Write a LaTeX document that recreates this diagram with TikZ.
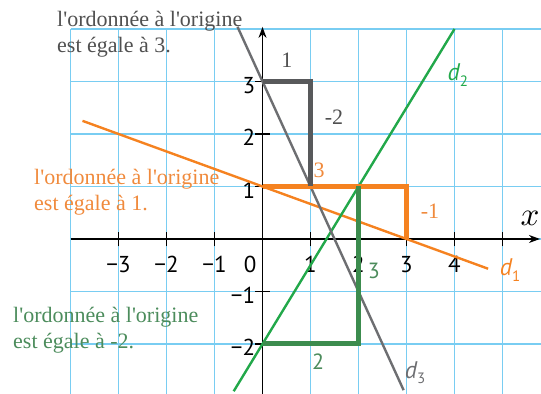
\documentclass[tikz,border=0pt]{standalone}
\usepackage{graphicx}
\usepackage{fontspec}
\setmainfont{Liberation Serif}[Ligatures=TeXOff]
\newfontfamily\axfont{PT Sans}
\usetikzlibrary{arrows.meta}
\definecolor{gridc}{HTML}{79CDF2}
\definecolor{orgc}{HTML}{F58220}
\definecolor{orgtxt}{HTML}{F08A3C}
\definecolor{grnc}{HTML}{22A84A}
\definecolor{grnslope}{HTML}{3C8C4E}
\definecolor{grntxt}{HTML}{4C8C5C}
\definecolor{grayslope}{HTML}{58595B}
\definecolor{grayline}{HTML}{6D6E71}
\definecolor{graytxt}{HTML}{505050}
\tikzset{
  gridline/.style={gridc, line width=1.8pt},
  axisline/.style={black, line width=1.4pt},
  tickline/.style={black, line width=1.3pt},
  dline/.style={line width=2.4pt},
  slope/.style={line width=5pt, line cap=butt, line join=miter},
  ticklab/.style={font=\axfont\fontsize{23}{23}\selectfont, inner sep=0pt},
  note/.style={font=\fontsize{22}{26}\selectfont, align=left, inner sep=0pt, anchor=north west},
  steplab/.style={font=\fontsize{22}{22}\selectfont, inner sep=0pt},
  steplabsf/.style={font=\axfont\fontsize{22}{22}\selectfont, inner sep=0pt},
  dlab/.style={font=\axfont\itshape\fontsize{24}{24}\selectfont, inner sep=0pt},
}
\newcommand{\dsub}[1]{d\raisebox{-0.45ex}{\upshape\fontsize{15}{15}\selectfont #1}}
\begin{document}
\begin{tikzpicture}[x=48pt, y=52.5pt]
\useasboundingbox (-5.469,-2.952) rectangle (5.802,4.552);
% grid
\foreach \i in {-4,...,5} \draw[gridline] (\i,-2.952) -- (\i,4);
\foreach \j in {-2,...,4} \draw[gridline] (-4,\j) -- (5.802,\j);
% axes
\draw[axisline, -{Stealth[length=11pt,width=8pt]}] (-4,0) -- (5.78,0);
\draw[axisline, -{Stealth[length=11pt,width=8pt]}] (0,-2.952) -- (0,4.04);
\foreach \i in {-3,-2,-1,1,2,3,4,5} \draw[tickline] (\i,-0.14) -- (\i,0.14);
\foreach \j in {-2,-1,1,2,3} \draw[tickline] (-0.15,\j) -- (0.15,\j);
% tick labels
\foreach \i/\t in {-3/−3,-2/−2,-1/−1,1/1,2/2,3/3,4/4}
  \node[ticklab, anchor=base] (xl\i) at (\i,-0.64) {\t};
\node[ticklab, anchor=base] (xl0) at (-0.26,-0.64) {0};
\foreach \j/\t in {3/3,2/2,1/1,-1/−1,-2/−2}
  \node[ticklab, anchor=east] (yl\j) at (-0.15,\j-0.07) {\t};
\node[inner sep=0pt] (xname) at (5.573,0.40) {\scalebox{3.3}{$x$}};
% lines
\coordinate (d1a) at (-3.75,2.25); \coordinate (d1b) at (4.7,-0.5667);
\coordinate (d2a) at (-0.6,-2.9); \coordinate (d2b) at (4,4);
\coordinate (d3a) at (-0.52,4.04); \coordinate (d3b) at (2.94,-2.88);
\draw[dline, orgc] (d1a) -- (d1b);
\draw[dline, grnc] (d2a) -- (d2b);
\draw[dline, grayline] (d3a) -- (d3b);
% slope steps
\coordinate (o3) at (0,3); \coordinate (g13) at (1,3); \coordinate (g11) at (1,1);
\coordinate (o1) at (0,1); \coordinate (r31) at (3,1); \coordinate (r30) at (3,0);
\coordinate (om2) at (0,-2); \coordinate (gm22) at (2,-2); \coordinate (g21) at (2,1);
\draw[slope, orgc] (o1) -- (r31) -- (r30);
\draw[slope, grayslope] (o3) -- (g13) -- (g11);
\draw[slope, grnslope] (om2) -- (gm22) -- (g21);
% step labels
\node[steplab, graytxt] (s1) at (0.51,3.40) {1};
\node[steplab, graytxt] (s2) at (1.49,2.32) {-2};
\node[steplab, orgtxt] (s3) at (1.18,1.30) {3};
\node[steplab, orgtxt] (s4) at (3.49,0.52) {-1};
\node[steplabsf, grntxt] (s5) at (1.16,-2.34) {2};
\node[steplabsf, grntxt] (s6) at (2.32,-0.60) {3};
% line names
\node[dlab, orgc] (n1) at (5.16,-0.59) {\dsub{1}};
\node[dlab, grnc] (n2) at (4.07,3.12) {\dsub{2}};
\node[dlab, grayline] (n3) at (3.18,-2.55) {\dsub{3}};
% notes
\node[note, graytxt] (t1) at (-4.281,4.343) {l'ordonnée à l'origine\\est égale à 3.};
\node[note, orgtxt] (t2) at (-4.760,1.333) {l'ordonnée à l'origine\\est égale à 1.};
\node[note, grntxt] (t3) at (-5.198,-1.295) {l'ordonnée à l'origine\\est égale à -2.};
\end{tikzpicture}
\end{document}
